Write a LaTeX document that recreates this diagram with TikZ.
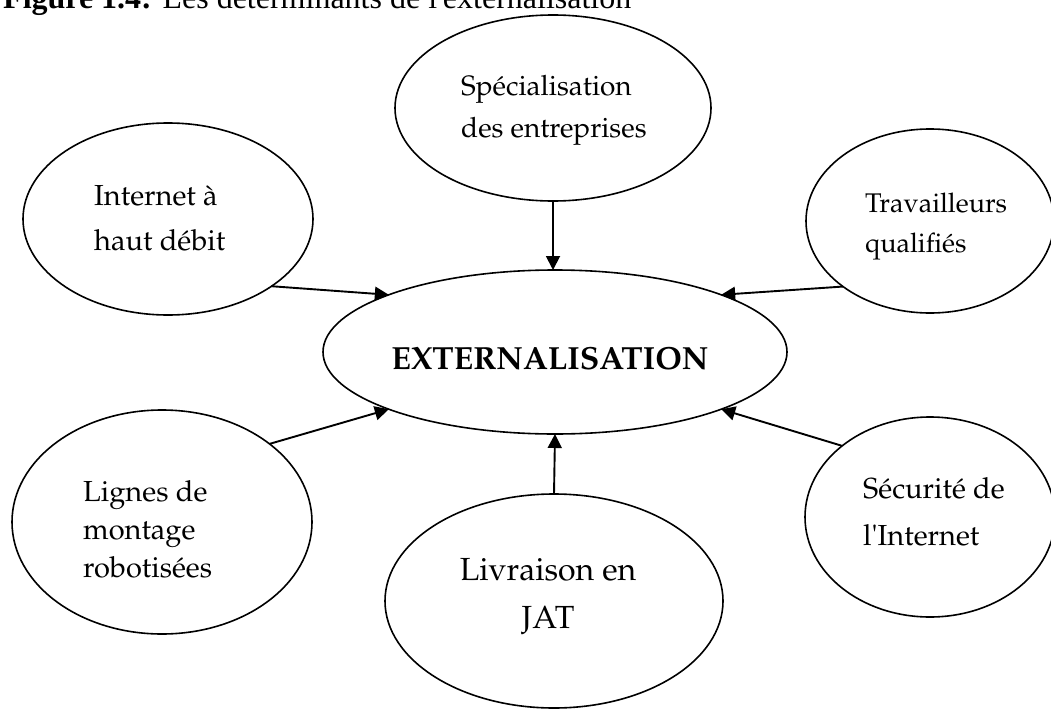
\documentclass[tikz,border=0pt]{standalone}
\usepackage[T1]{fontenc}
\usepackage{fontspec}
\setmainfont{Liberation Serif}
\usetikzlibrary{shapes.geometric,arrows.meta}
\newcommand\palfont{\fontencoding{T1}\fontfamily{ppl}\selectfont}
\begin{document}
\begin{tikzpicture}[x=1pt,y=-1pt,
  oval/.style={ellipse, draw, line width=1.6pt, inner sep=0pt, outer sep=0pt},
  lbl/.style={align=left, anchor=base west, inner sep=0pt},
  arr/.style={-{Triangle[length=14pt,width=14pt]}, line width=1.9pt}]
\useasboundingbox (0,0) rectangle (1051,709);
% title
\node[anchor=base west, inner sep=0pt, font=\fontsize{32}{36}\selectfont] (title) at (3,9)
  {\textbf{Figure 1.4:} Les d\'eterminants de l{\textquotesingle}externalisation};
% ellipses
\node[oval, minimum width=316pt, minimum height=186pt] (spec) at (553,108) {};
\node[oval, minimum width=290pt, minimum height=192pt] (inet) at (168,219) {};
\node[oval, minimum width=248pt, minimum height=184pt] (trav) at (930,221) {};
\node[oval, minimum width=464pt, minimum height=164pt] (ext) at (555,352) {};
\node[oval, minimum width=300pt, minimum height=224pt] (lign) at (162,522) {};
\node[oval, minimum width=338pt, minimum height=214pt] (livr) at (554,601) {};
\node[oval, minimum width=250pt, minimum height=200pt] (secu) at (930,517) {};
% texts (anchor = baseline of the last line)
\node[lbl, font=\palfont\fontsize{28}{42}\selectfont] (tspec) at (461,137) {Sp\'ecialisation\\des entreprises};
\node[lbl, font=\palfont\fontsize{29}{45}\selectfont] (tinet) at (94,250) {Internet \`a\\haut d\'ebit};
\node[lbl, font=\palfont\fontsize{27}{40}\selectfont] (ttrav) at (865,252) {Travailleurs\\qualifi\'es};
\node[anchor=base, inner sep=0pt, font=\palfont\bfseries\fontsize{32}{36}\selectfont] (text) at (550,369) {EXTERNALISATION};
\node[lbl, font=\palfont\fontsize{29}{38}\selectfont] (tlign) at (83,577) {Lignes de\\montage\\robotis\'ees};
\node[anchor=base, align=center, inner sep=0pt, font=\palfont\fontsize{32}{48}\selectfont] (tlivr) at (548,628) {Livraison en\\JAT};
\node[lbl, font=\palfont\fontsize{29}{47}\selectfont] (tsecu) at (863,545) {S\'ecurit\'e de\\l{\textquotesingle}Internet};
% arrows
\draw[arr] (spec.south) -- (spec.south |- ext.north);
\draw[arr] (inet.-33) -- (ext.161);
\draw[arr] (trav.217) -- (ext.19);
\draw[arr] (lign.36) -- (ext.199.5);
\draw[arr] (livr.north) -- (ext.south);
\draw[arr] (secu.141) -- (ext.341);
\end{tikzpicture}
\end{document}
